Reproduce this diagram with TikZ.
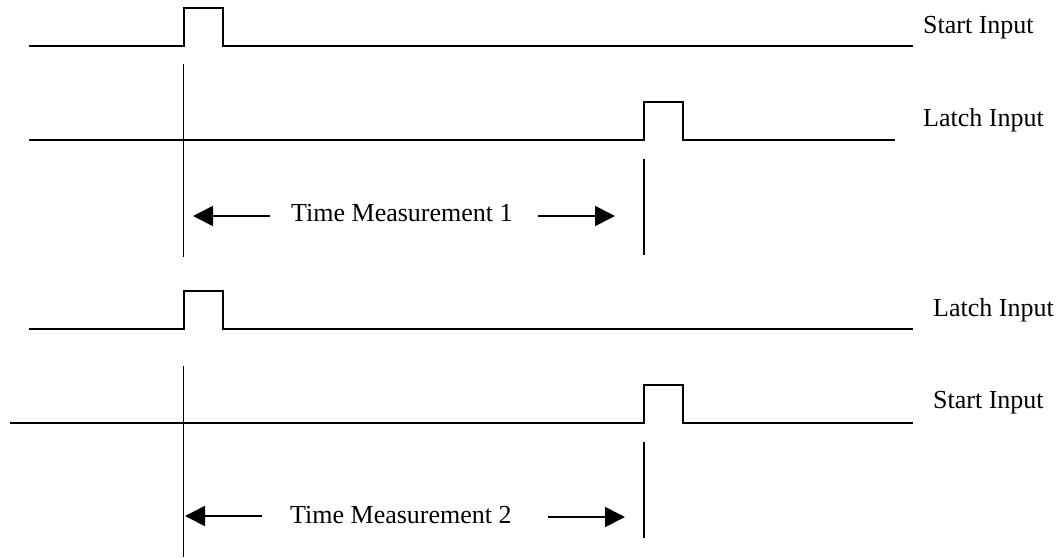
\documentclass[tikz,border=0pt]{standalone}
\usepackage{fontspec}
\setmainfont{Liberation Serif}
\usetikzlibrary{arrows.meta}
\begin{document}
\begin{tikzpicture}[x=1pt,y=-1pt,
  signal/.style={line width=2pt,line join=miter},
  marker/.style={line width=1.7pt},
  measarrow/.style={line width=1.7pt,-{Triangle[length=20pt,width=20pt]}},
  lbl/.style={anchor=base west,inner sep=0pt,font=\fontsize{26}{30}\selectfont},
  tm/.style={anchor=base west,inner sep=0pt,font=\fontsize{26}{30}\selectfont}]
\useasboundingbox (0,0) rectangle (1060,557);
% signal 1: Start Input
\coordinate (s1a) at (29,46);
\coordinate (s1b) at (913,46);
\draw[signal] (s1a) -- (184,46) -- (184,8) -- (223,8) -- (223,46) -- (s1b);
\node[lbl] (l1) at (923,33) {Start Input};
% signal 2: Latch Input
\coordinate (s2a) at (29,140);
\coordinate (s2b) at (895,140);
\draw[signal] (s2a) -- (644,140) -- (644,102) -- (683,102) -- (683,140) -- (s2b);
\node[lbl] (l2) at (923,126) {Latch Input};
% markers 1
\coordinate (m1a) at (183.5,64);
\coordinate (m1b) at (183.5,257);
\coordinate (m2a) at (644,159);
\coordinate (m2b) at (644,255);
\draw[marker] (m1a) -- (m1b);
\draw[marker] (m2a) -- (m2b);
% measurement 1
\coordinate (a1s) at (270,216);
\coordinate (a1e) at (193,216);
\coordinate (a2s) at (538,216);
\coordinate (a2e) at (615,216);
\draw[measarrow] (a1s) -- (a1e);
\draw[measarrow] (a2s) -- (a2e);
\node[tm] (t1) at (291,221.5) {Time Measurement 1};
% signal 3: Latch Input
\coordinate (s3a) at (29,329);
\coordinate (s3b) at (913,329);
\draw[signal] (s3a) -- (184,329) -- (184,291) -- (223,291) -- (223,329) -- (s3b);
\node[lbl] (l3) at (933,316) {Latch Input};
% signal 4: Start Input
\coordinate (s4a) at (10,423);
\coordinate (s4b) at (913,423);
\draw[signal] (s4a) -- (644,423) -- (644,385) -- (683,385) -- (683,423) -- (s4b);
\node[lbl] (l4) at (933,408) {Start Input};
% markers 2
\coordinate (m3a) at (183.5,366);
\coordinate (m3b) at (183.5,557);
\coordinate (m4a) at (644,442);
\coordinate (m4b) at (644,538);
\draw[marker] (m3a) -- (m3b);
\draw[marker] (m4a) -- (m4b);
% measurement 2
\coordinate (b1s) at (262,516);
\coordinate (b1e) at (185,516);
\coordinate (b2s) at (548,517);
\coordinate (b2e) at (625,517);
\draw[measarrow] (b1s) -- (b1e);
\draw[measarrow] (b2s) -- (b2e);
\node[tm] (t2) at (290,523) {Time Measurement 2};
\end{tikzpicture}
\end{document}
